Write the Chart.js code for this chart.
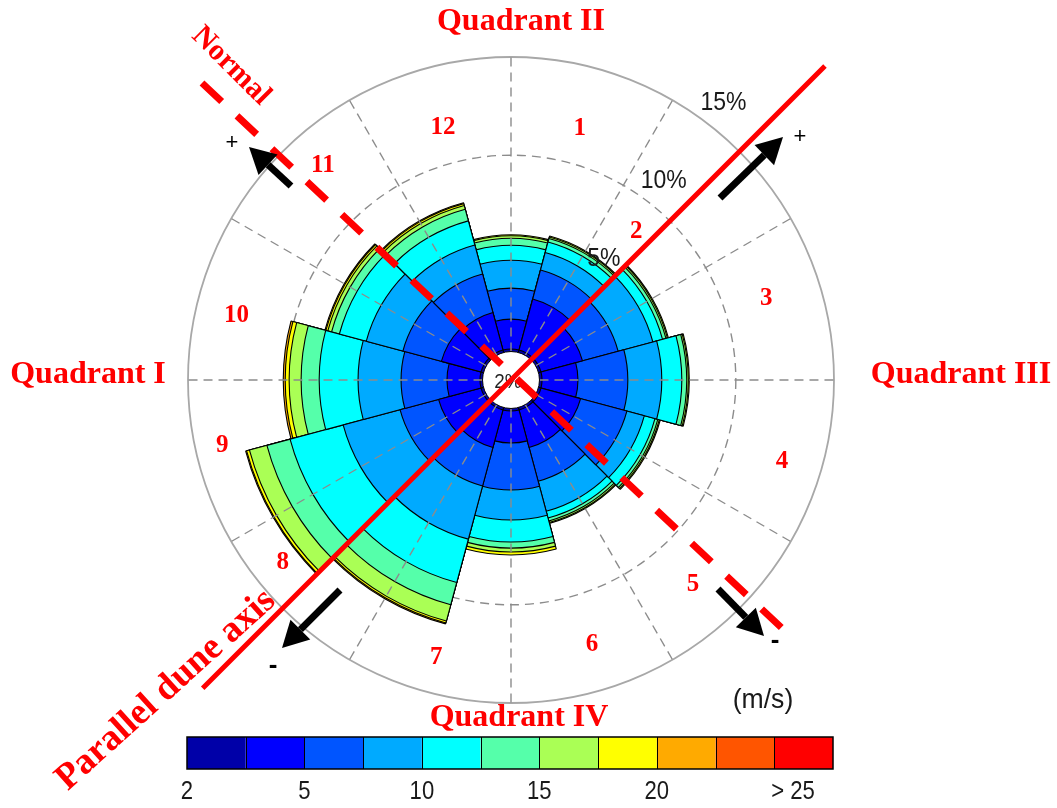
<!DOCTYPE html>
<html>
<head>
<meta charset="utf-8">
<script src="https://cdn.jsdelivr.net/npm/chart.js@4.4.0/dist/chart.umd.min.js"></script>
<style>
  html, body { margin: 0; padding: 0; background: #fff; }
  #wrap { position: relative; width: 1057px; height: 808px; }
</style>
</head>
<body>
<div id="wrap"><canvas id="rose"></canvas></div>
<script>
// Direction sectors, 30° wide, clockwise from north
const directions = ['0°', '30°', '60°', '90°', '120°', '150°', '180°', '210°', '240°', '270°', '300°', '330°'];

// Wind speed classes (m/s) and their colours
const speedBins = ['2–3.5', '3.5–5', '5–7.5', '7.5–10', '10–12.5', '12.5–15', '15–17.5', '17.5–20', '20–22.5', '22.5–25', '> 25'];
const binColors = ['#0000A8', '#0000FF', '#0055FF', '#00AAFF', '#00FFFF', '#55FFAA', '#AAFF55', '#FFFF00', '#FFAA00', '#FF5500', '#FF0000'];

// Frequency of occurrence (%) per speed class, one value per direction sector
const freq_2_35   = [0.13, 0.13, 0.13, 0.13, 0.13, 0.13, 0.13, 0.13, 0.13, 0.13, 0.13, 0.13];
const freq_35_5   = [1.52, 2.69, 2.19, 1.83, 2.09, 1.98, 1.63, 1.98, 2.24, 1.68, 2.09, 1.98];
const freq_5_75   = [1.58, 1.53, 1.88, 2.54, 2.44, 1.78, 2.39, 2.03, 2.03, 2.34, 2.03, 2.03];
const freq_75_10  = [1.42, 0.92, 1.83, 1.73, 0.92, 1.58, 1.53, 2.80, 3.00, 2.19, 1.93, 1.53];
const freq_10_125 = [0.76, 0.56, 0.51, 1.02, 0.56, 0.36, 1.12, 2.29, 2.80, 1.98, 1.42, 1.27];
const freq_125_15 = [0.36, 0.18, 0.18, 0.25, 0.15, 0.15, 0.31, 1.17, 1.22, 0.92, 0.41, 0.61];
const freq_15_175 = [0.13, 0.08, 0.08, 0.08, 0.08, 0.08, 0.20, 0.86, 0.92, 0.61, 0.20, 0.20];
const freq_175_20 = [0.05, 0.05, 0.05, 0.05, 0.05, 0.05, 0.15, 0.10, 0.15, 0.20, 0.10, 0.10];
const freq_20_225 = [0.00, 0.00, 0.00, 0.00, 0.00, 0.00, 0.00, 0.05, 0.05, 0.10, 0.05, 0.05];
const freq_225_25 = [0, 0, 0, 0, 0, 0, 0, 0, 0, 0, 0, 0];
const freq_gt25   = [0, 0, 0, 0, 0, 0, 0, 0, 0, 0, 0, 0];

const binFreqs = [freq_2_35, freq_35_5, freq_5_75, freq_75_10, freq_10_125, freq_125_15,
                  freq_15_175, freq_175_20, freq_20_225, freq_225_25, freq_gt25];

// Radial rings (%) and colour-bar tick labels
const ringTicks = [5, 10, 15];
const radialMin = -1.45;            // leaves the empty calm circle in the middle
const colorbarTicks = ['2', '5', '10', '15', '20', '> 25'];

// Sector numbers and their placement (bearing °, distance px from centre)
const sectorNumbers = ['1', '2', '3', '4', '5', '6', '7', '8', '9', '10', '11', '12'];
const sectorNumberPos = [[15.3, 261], [40.2, 194], [72.2, 268], [106.8, 283], [138.4, 274], [163, 277],
                         [195.1, 287], [231.4, 292], [257.3, 296], [283.3, 282], [318.7, 285], [344.9, 261]];

// Stack the classes: each ring is drawn out to the running total
const cumulative = [];
binFreqs.forEach((arr, k) => {
  cumulative.push(arr.map((v, i) => (k ? cumulative[k - 1][i] : 0) + v));
});

const datasets = binFreqs.map((arr, k) => ({
  label: speedBins[k],
  data: cumulative[k],
  backgroundColor: c => (arr[c.dataIndex] > 0 ? binColors[k] : 'rgba(0,0,0,0)'),
  borderColor: '#000',
  borderWidth: c => (arr[c.dataIndex] > 0 ? 1.1 : 0),
  borderAlign: 'center'
}));

const DEG = Math.PI / 180;
function polar(s, bearing, r) {
  return [s.xCenter + r * Math.sin(bearing * DEG), s.yCenter - r * Math.cos(bearing * DEG)];
}
function drawText(ctx, str, x, y, font, color, rot, sx) {
  ctx.save();
  ctx.translate(x, y);
  if (rot) ctx.rotate(rot * DEG);
  if (sx) ctx.scale(sx, 1);
  ctx.font = font;
  ctx.fillStyle = color;
  ctx.textAlign = 'center';
  ctx.textBaseline = 'middle';
  ctx.fillText(str, 0, 0);
  ctx.restore();
}
function drawArrow(ctx, x0, y0, x1, y1) {
  const a = Math.atan2(y1 - y0, x1 - x0), hl = 26, hw = 14;
  const bx = x1 - hl * Math.cos(a), by = y1 - hl * Math.sin(a);
  ctx.save();
  ctx.strokeStyle = '#000';
  ctx.fillStyle = '#000';
  ctx.lineWidth = 7;
  ctx.lineCap = 'butt';
  ctx.beginPath(); ctx.moveTo(x0, y0); ctx.lineTo(bx, by); ctx.stroke();
  ctx.beginPath();
  ctx.moveTo(x1, y1);
  ctx.lineTo(bx + hw * Math.sin(a), by - hw * Math.cos(a));
  ctx.lineTo(bx - hw * Math.sin(a), by + hw * Math.cos(a));
  ctx.closePath(); ctx.fill();
  ctx.restore();
}

const SERIF_B = 'bold 32px "Liberation Serif", "Times New Roman", serif';
const SANS = '"Liberation Sans", Arial, sans-serif';

const roseDecor = {
  id: 'roseDecor',
  // dashed spokes every 30°
  afterDatasetsDraw(chart) {
    const s = chart.scales.r, ctx = chart.ctx;
    const r0 = s.getDistanceFromCenterForValue(0), r1 = s.getDistanceFromCenterForValue(15);
    ctx.save();
    ctx.strokeStyle = '#8c8c8c';
    ctx.lineWidth = 1.4;
    ctx.setLineDash([9, 6]);
    for (let b = 0; b < 360; b += 30) {
      const [x0, y0] = polar(s, b, r0), [x1, y1] = polar(s, b, r1);
      ctx.beginPath(); ctx.moveTo(x0, y0); ctx.lineTo(x1, y1); ctx.stroke();
    }
    ctx.restore();
  },
  afterDraw(chart) {
    const s = chart.scales.r, ctx = chart.ctx;
    const cx = s.xCenter, cy = s.yCenter;
    const r0 = s.getDistanceFromCenterForValue(0);

    // calm circle
    ctx.save();
    ctx.fillStyle = '#fff';
    ctx.beginPath(); ctx.arc(cx, cy, r0, 0, 2 * Math.PI); ctx.fill();
    ctx.strokeStyle = '#000'; ctx.lineWidth = 1;
    ctx.beginPath(); ctx.arc(cx, cy, r0, 0, 2 * Math.PI); ctx.stroke();
    ctx.restore();
    drawText(ctx, '2%', cx - 3, cy + 2, '21px ' + SANS, '#222', 0, 0.9);

    // ring labels
    ringTicks.forEach(v => {
      const [x, y] = polar(s, 37.5, s.getDistanceFromCenterForValue(v) + 26);
      drawText(ctx, v + '%', x, y, '25px ' + SANS, '#1a1a1a', 0, 0.92);
    });

    // sector numbers
    sectorNumbers.forEach((t, i) => {
      const [x, y] = polar(s, sectorNumberPos[i][0], sectorNumberPos[i][1]);
      drawText(ctx, t, x, y, 'bold 25px "Liberation Serif", serif', '#f00');
    });

    // quadrant labels
    drawText(ctx, 'Quadrant II', cx + 10, 22, SERIF_B, '#f00');
    drawText(ctx, 'Quadrant I', 88, cy - 5, SERIF_B, '#f00');
    drawText(ctx, 'Quadrant III', 961, cy - 5, SERIF_B, '#f00');
    drawText(ctx, 'Quadrant IV', cx + 8, 718, SERIF_B, '#f00');

    // parallel dune axis (solid) and its normal (dashed)
    ctx.save();
    ctx.strokeStyle = '#f00';
    ctx.lineWidth = 5;
    const [ax, ay] = polar(s, 225, 436), [bx, by] = polar(s, 45, 444);
    ctx.beginPath(); ctx.moveTo(ax, ay); ctx.lineTo(bx, by); ctx.stroke();
    ctx.lineWidth = 7;
    ctx.setLineDash([27, 21]);
    ctx.beginPath(); ctx.moveTo(cx - 309, cy - 297); ctx.lineTo(cx + 274, cy + 251); ctx.stroke();
    ctx.restore();
    drawText(ctx, 'Parallel dune axis', 166, 690, 'bold 37px "Liberation Serif", serif', '#f00', -42);
    drawText(ctx, 'Normal', 231, 66, 'bold 30px "Liberation Serif", serif', '#f00', 45);

    // direction arrows with signs
    drawArrow(ctx, cx + 209, cy - 182, cx + 272, cy - 243);
    drawArrow(ctx, cx - 220, cy - 194, cx - 262, cy - 233);
    drawArrow(ctx, cx + 207, cy + 209, cx + 253, cy + 256);
    drawArrow(ctx, cx - 171, cy + 210, cx - 229, cy + 268);
    drawText(ctx, '+', cx + 289, cy - 243, '22px ' + SANS, '#000');
    drawText(ctx, '+', cx - 279, cy - 237, '22px ' + SANS, '#000');
    drawText(ctx, '-', cx + 264, cy + 261, 'bold 26px ' + SANS, '#000');
    drawText(ctx, '-', cx - 238, cy + 286, 'bold 26px ' + SANS, '#000');

    // colour bar
    const x0 = 187, x1 = 833, y0 = 737, h = 32, w = (x1 - x0) / binColors.length;
    ctx.save();
    binColors.forEach((c, k) => {
      ctx.fillStyle = c;
      ctx.fillRect(x0 + k * w, y0, w, h);
    });
    ctx.strokeStyle = '#000'; ctx.lineWidth = 1;
    for (let k = 1; k < binColors.length; k++) {
      ctx.beginPath(); ctx.moveTo(Math.round(x0 + k * w) + 0.5, y0); ctx.lineTo(Math.round(x0 + k * w) + 0.5, y0 + h); ctx.stroke();
    }
    ctx.lineWidth = 1.5;
    ctx.strokeRect(x0, y0, x1 - x0, h);
    ctx.restore();
    colorbarTicks.forEach((t, k) => {
      const x = k < colorbarTicks.length - 1 ? x0 + 2 * k * w : 793;
      drawText(ctx, t, x, 792, '26px ' + SANS, '#1a1a1a', 0, 0.85);
    });
    drawText(ctx, '(m/s)', 763, 700, '28px ' + SANS, '#1a1a1a', 0, 0.95);
  }
};

new Chart(document.getElementById('rose'), {
  type: 'polarArea',
  data: { labels: directions, datasets },
  options: {
    responsive: true,
    maintainAspectRatio: false,
    animation: false,
    events: [],
    layout: { padding: { left: 187.5, right: 222.5, top: 56.5, bottom: 104.5 } },
    plugins: { legend: { display: false }, tooltip: { enabled: false } },
    scales: {
      r: {
        min: radialMin,
        max: 15,
        startAngle: -15,
        z: 1,
        ticks: { display: false },
        pointLabels: { display: false },
        angleLines: { display: false },
        grid: {
          circular: true,
          color: c => (c.tick && c.tick.value >= 15 ? '#a8a8a8' : '#8c8c8c'),
          lineWidth: c => (!c.tick || c.tick.value < 0 ? 0 : (c.tick.value >= 15 ? 1.8 : 1.4))
        },
        border: { dash: c => (c.tick && c.tick.value >= 15 ? [] : [9, 6]) },
        afterBuildTicks: sc => { sc.ticks = [radialMin, ...ringTicks].map(v => ({ value: v })); }
      }
    }
  },
  plugins: [roseDecor]
});
</script>
</body>
</html>
